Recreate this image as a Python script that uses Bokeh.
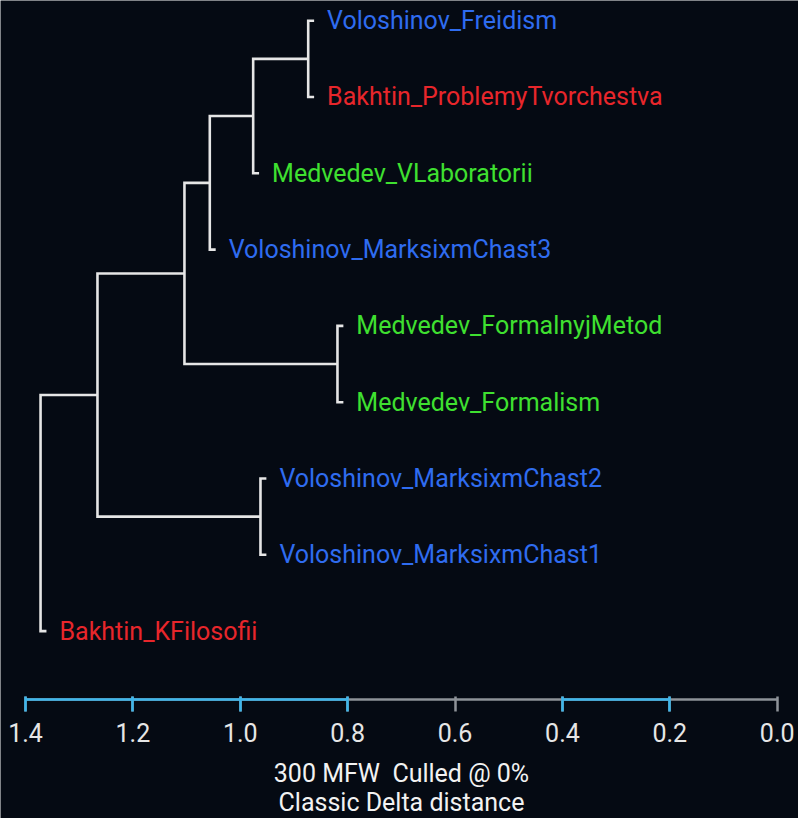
from bokeh.plotting import figure
from bokeh.models import LinearAxis, FixedTicker, PrintfTickFormatter, Range1d, ColumnDataSource
from bokeh.core.properties import value
from bokeh.embed import file_html
from bokeh.resources import INLINE

# ---- data -------------------------------------------------------------
leaf_labels = [
    "Voloshinov_Freidism",
    "Bakhtin_ProblemyTvorchestva",
    "Medvedev_VLaboratorii",
    "Voloshinov_MarksixmChast3",
    "Medvedev_FormalnyjMetod",
    "Medvedev_Formalism",
    "Voloshinov_MarksixmChast2",
    "Voloshinov_MarksixmChast1",
    "Bakhtin_KFilosofii",
]
leaf_authors = ["Voloshinov", "Bakhtin", "Medvedev", "Voloshinov", "Medvedev",
                "Medvedev", "Voloshinov", "Voloshinov", "Bakhtin"]
author_colors = {"Voloshinov": "#2f6cf0", "Bakhtin": "#e8262b", "Medvedev": "#3fe030"}

# merges: ids 0..8 are leaves, 9.. are merge nodes in order
merge_left = [4, 0, 6, 10, 12, 13, 14, 15]
merge_right = [5, 1, 7, 2, 3, 9, 11, 8]
merge_height = [0.819, 0.8735, 0.9624, 0.976, 1.0568, 1.104, 1.266, 1.372]
hang = 0.011

x_ticks = [0.0, 0.2, 0.4, 0.6, 0.8, 1.0, 1.2, 1.4]
axis_title = "300 MFW\u00a0 Culled @ 0%\nClassic Delta distance"

# ---- dendrogram geometry ---------------------------------------------
n = len(leaf_labels)
node_y = {i: float(i) for i in range(n)}
node_h = {}
parent_h = {}
for k, (a, b, h) in enumerate(zip(merge_left, merge_right, merge_height)):
    nid = n + k
    node_y[nid] = (node_y[a] + node_y[b]) / 2
    node_h[nid] = h
    parent_h[a] = h
    parent_h[b] = h

def node_x(i):
    if i < n:
        return parent_h[i] - hang
    return node_h[i]

xs, ys = [], []
for k, (a, b, h) in enumerate(zip(merge_left, merge_right, merge_height)):
    xs.append([node_x(a), h, h, node_x(b)])
    ys.append([node_y[a], node_y[a], node_y[b], node_y[b]])

bg = "#050a13"
p = figure(width=798, height=818, output_backend="svg", toolbar_location=None,
           x_range=Range1d(1.4466, -0.03967), y_range=Range1d(10.456, -0.2647),
           x_axis_location=None, y_axis_location=None,
           min_border=0, min_border_left=0, min_border_right=0,
           min_border_top=0, min_border_bottom=0,
           background_fill_color=bg, border_fill_color=bg)
p.outline_line_color = None
p.xgrid.visible = False
p.ygrid.visible = False

p.multi_line(xs=xs, ys=ys, line_color="#e6e6e6", line_width=2.6,
             line_join="miter", line_cap="butt")

src = ColumnDataSource(dict(
    x=[node_x(i) for i in range(n)],
    y=[node_y[i] for i in range(n)],
    text=leaf_labels,
    color=[author_colors[a] for a in leaf_authors],
))
p.text(x="x", y="y", text="text", source=src, text_color="color",
       x_offset=13, text_align="left", text_baseline="middle",
       text_font=value("Roboto"), text_font_size="25px")

axis_y = 8.90

main_ax = LinearAxis(fixed_location=axis_y, bounds=(0, 1.4),
                     ticker=FixedTicker(ticks=x_ticks),
                     formatter=PrintfTickFormatter(format="%.1f"))
main_ax.axis_line_color = "#8e9399"
main_ax.axis_line_width = 2.5
main_ax.major_tick_line_color = "#8e9399"
main_ax.major_tick_line_width = 2.5
main_ax.major_tick_in = 3
main_ax.major_tick_out = 12
main_ax.minor_tick_line_color = None
main_ax.major_label_standoff = 11
main_ax.major_label_text_font = "Roboto"
main_ax.major_label_text_font_size = "25px"
main_ax.major_label_text_color = "#e6e6e6"
main_ax.axis_label = axis_title
main_ax.axis_label_text_font = "Roboto"
main_ax.axis_label_text_font_size = "25px"
main_ax.axis_label_text_font_style = "normal"
main_ax.axis_label_text_color = "#f2f2f2"
main_ax.axis_label_standoff = 14
main_ax.axis_label_text_line_height = 1.0
p.add_layout(main_ax, "below")

# glowing (blue) parts of the axis
for lo, hi, tk in [(0.8, 1.4, [0.8, 1.0, 1.2, 1.4]), (0.2, 0.4, [0.2, 0.4])]:
    ax = LinearAxis(fixed_location=axis_y, bounds=(lo, hi), ticker=FixedTicker(ticks=tk))
    ax.axis_line_color = "#3cb6ec"
    ax.axis_line_width = 2.5
    ax.major_tick_line_color = "#3cb6ec"
    ax.major_tick_line_width = 2.5
    ax.major_tick_in = 3
    ax.major_tick_out = 12
    ax.minor_tick_line_color = None
    ax.major_label_text_color = None
    p.add_layout(ax, "below")

open("out.html", "w").write(file_html(p, INLINE))
